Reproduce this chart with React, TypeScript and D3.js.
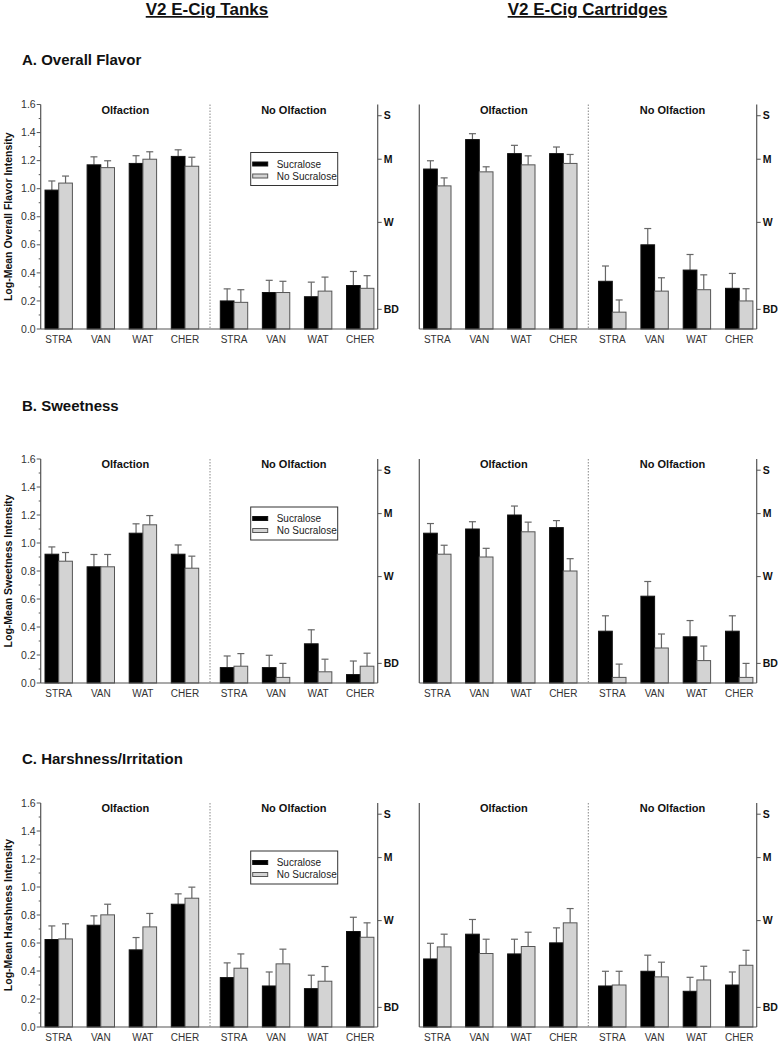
import React from "react";
import * as d3 from "d3";

// ---------- data ----------
const flavors = ["STRA", "VAN", "WAT", "CHER"];
const conditions = ["Olfaction", "No Olfaction"];
const devices = ["V2 E-Cig Tanks", "V2 E-Cig Cartridges"];
const seriesNames = ["Sucralose", "No Sucralose"];
const measureTitles = ["A. Overall Flavor", "B. Sweetness", "C. Harshness/Irritation"];
const yAxisTitles = [
  "Log-Mean Overall Flavor Intensity",
  "Log-Mean Sweetness Intensity",
  "Log-Mean Harshness Intensity",
];
const yTicks = [0, 0.2, 0.4, 0.6, 0.8, 1.0, 1.2, 1.4, 1.6];
const yMinorTicks = [0.1, 0.3, 0.5, 0.7, 0.9, 1.1, 1.3, 1.5];
const scaleLabels = ["S", "M", "W", "BD"];
const scaleValues = [1.52, 1.21, 0.76, 0.14];

// values: 4 Olfaction flavors, then 4 No Olfaction flavors
const tankFlavorSuc = [0.99, 1.17, 1.18, 1.23, 0.2, 0.26, 0.23, 0.31];
const tankFlavorSucErr = [0.065, 0.057, 0.055, 0.047, 0.086, 0.087, 0.104, 0.1];
const tankFlavorNoSuc = [1.04, 1.15, 1.21, 1.16, 0.19, 0.26, 0.27, 0.29];
const tankFlavorNoSucErr = [0.05, 0.049, 0.053, 0.064, 0.09, 0.08, 0.1, 0.09];

const cartFlavorSuc = [1.14, 1.35, 1.25, 1.25, 0.34, 0.6, 0.42, 0.29];
const cartFlavorSucErr = [0.059, 0.042, 0.059, 0.047, 0.109, 0.116, 0.111, 0.106];
const cartFlavorNoSuc = [1.02, 1.12, 1.17, 1.18, 0.12, 0.27, 0.28, 0.2];
const cartFlavorNoSucErr = [0.057, 0.036, 0.064, 0.064, 0.087, 0.095, 0.106, 0.087];

const tankSweetSuc = [0.92, 0.83, 1.07, 0.92, 0.11, 0.11, 0.28, 0.06];
const tankSweetSucErr = [0.052, 0.088, 0.067, 0.066, 0.083, 0.088, 0.1, 0.097];
const tankSweetNoSuc = [0.87, 0.83, 1.13, 0.82, 0.12, 0.04, 0.08, 0.12];
const tankSweetNoSucErr = [0.062, 0.088, 0.066, 0.086, 0.09, 0.1, 0.09, 0.093];

const cartSweetSuc = [1.07, 1.1, 1.2, 1.11, 0.37, 0.62, 0.33, 0.37];
const cartSweetSucErr = [0.069, 0.052, 0.064, 0.05, 0.11, 0.105, 0.116, 0.11];
const cartSweetNoSuc = [0.92, 0.9, 1.08, 0.8, 0.04, 0.25, 0.16, 0.04];
const cartSweetNoSucErr = [0.064, 0.062, 0.069, 0.088, 0.095, 0.1, 0.104, 0.1];

const tankHarshSuc = [0.625, 0.727, 0.551, 0.877, 0.353, 0.293, 0.274, 0.682];
const tankHarshSucErr = [0.097, 0.067, 0.088, 0.074, 0.105, 0.1, 0.096, 0.102];
const tankHarshNoSuc = [0.629, 0.801, 0.715, 0.92, 0.42, 0.451, 0.327, 0.641];
const tankHarshNoSucErr = [0.108, 0.076, 0.096, 0.079, 0.102, 0.105, 0.105, 0.103];

const cartHarshSuc = [0.486, 0.663, 0.522, 0.601, 0.293, 0.398, 0.255, 0.3];
const cartHarshSucErr = [0.112, 0.105, 0.105, 0.107, 0.105, 0.115, 0.1, 0.093];
const cartHarshNoSuc = [0.572, 0.525, 0.575, 0.744, 0.3, 0.358, 0.336, 0.441];
const cartHarshNoSucErr = [0.091, 0.102, 0.102, 0.102, 0.098, 0.105, 0.098, 0.107];

const panelData = [
  [
    [tankFlavorSuc, tankFlavorSucErr, tankFlavorNoSuc, tankFlavorNoSucErr],
    [cartFlavorSuc, cartFlavorSucErr, cartFlavorNoSuc, cartFlavorNoSucErr],
  ],
  [
    [tankSweetSuc, tankSweetSucErr, tankSweetNoSuc, tankSweetNoSucErr],
    [cartSweetSuc, cartSweetSucErr, cartSweetNoSuc, cartSweetNoSucErr],
  ],
  [
    [tankHarshSuc, tankHarshSucErr, tankHarshNoSuc, tankHarshNoSucErr],
    [cartHarshSuc, cartHarshSucErr, cartHarshNoSuc, cartHarshNoSucErr],
  ],
];

// ---------- layout ----------
const W = 778;
const H = 1044;
const FONT = "'Liberation Sans', Arial, Helvetica, sans-serif";
const colLayout = [
  { left: 40.7, mid: 210, right: 377.7 },
  { left: 419.3, mid: 588.3, right: 756.7 },
];
const rowLayout = [
  { top: 104.5, zero: 329, titleY: 65 },
  { top: 459, zero: 683, titleY: 411 },
  { top: 803, zero: 1027, titleY: 764 },
];
const barW = 13.7;
const AXIS = "#555";
const BLACK = "#000";
const GRAY = "#d3d3d3";
const ERR = "#666";

function Panel({ row, col }: { row: number; col: number }) {
  const { left, mid, right } = colLayout[col];
  const { top, zero } = rowLayout[row];
  const y = d3.scaleLinear().domain([0, 1.6]).range([zero, top]);
  const halves = [
    d3.scalePoint<string>().domain(flavors).range([left + 18, mid - 25]),
    d3.scalePoint<string>().domain(flavors).range([mid + 24, right - 17.5]),
  ];
  const [suc, sucErr, noSuc, noSucErr] = panelData[row][col];
  const bars: React.ReactNode[] = [];
  conditions.forEach((cond, ci) => {
    flavors.forEach((f, fi) => {
      const i = ci * 4 + fi;
      const cx = halves[ci](f) as number;
      const series = [
        { v: suc[i], e: sucErr[i], x: cx - barW, fill: BLACK, stroke: "#111" },
        { v: noSuc[i], e: noSucErr[i], x: cx, fill: GRAY, stroke: "#555" },
      ];
      series.forEach((s, si) => {
        const bx = s.x + barW / 2;
        bars.push(
          <g key={`${i}-${si}`}>
            <line x1={bx} x2={bx} y1={y(s.v)} y2={y(s.v + s.e)} stroke={ERR} strokeWidth={1.2} />
            <line x1={bx - 3.5} x2={bx + 3.5} y1={y(s.v + s.e)} y2={y(s.v + s.e)} stroke={ERR} strokeWidth={1.2} />
            <rect x={s.x} y={y(s.v)} width={barW} height={zero - y(s.v)} fill={s.fill} stroke={s.stroke} strokeWidth={1} />
          </g>
        );
      });
    });
  });

  return (
    <g>
      {bars}
      {/* axes */}
      <line x1={left} x2={left} y1={top} y2={zero} stroke={AXIS} strokeWidth={1.2} />
      <line x1={left} x2={right} y1={zero} y2={zero} stroke={AXIS} strokeWidth={1.2} />
      <line x1={right} x2={right} y1={top} y2={zero} stroke={AXIS} strokeWidth={1.2} />
      <line x1={mid} x2={mid} y1={top} y2={zero} stroke="#888" strokeWidth={1} strokeDasharray="1.5,1.5" />
      {col === 0 &&
        yTicks.map((t) => (
          <g key={`t${t}`}>
            <line x1={left - 4} x2={left} y1={y(t)} y2={y(t)} stroke={AXIS} strokeWidth={1} />
            <text x={left - 5} y={y(t)} dy="0.35em" textAnchor="end" fontSize={10.5} fill="#333" fontFamily={FONT}>
              {d3.format(".1f")(t)}
            </text>
          </g>
        ))}
      {col === 0 &&
        yMinorTicks.map((t) => (
          <line key={`m${t}`} x1={left - 2} x2={left} y1={y(t)} y2={y(t)} stroke={AXIS} strokeWidth={1} />
        ))}
      {scaleLabels.map((lab, k) => (
        <g key={lab}>
          <line x1={right} x2={right + 4} y1={y(scaleValues[k])} y2={y(scaleValues[k])} stroke={AXIS} strokeWidth={1} />
          <text x={right + 6} y={y(scaleValues[k])} dy="0.35em" fontSize={10.5} fontWeight="bold" fill="#111" fontFamily={FONT}>
            {lab}
          </text>
        </g>
      ))}
      {/* x labels */}
      {conditions.map((c, ci) =>
        flavors.map((f) => (
          <text key={`${c}${f}`} x={halves[ci](f) as number} y={zero + 14} textAnchor="middle" fontSize={10} fill="#333" fontFamily={FONT}>
            {f}
          </text>
        ))
      )}
      {/* condition labels */}
      <text x={(left + mid) / 2} y={top + 9} textAnchor="middle" fontSize={11} fontWeight="bold" fill="#111" fontFamily={FONT}>
        {conditions[0]}
      </text>
      <text x={(mid + right) / 2} y={top + 9} textAnchor="middle" fontSize={11} fontWeight="bold" fill="#111" fontFamily={FONT}>
        {conditions[1]}
      </text>
      {col === 0 && (
        <text
          transform={`translate(${8},${(top + zero) / 2}) rotate(-90)`}
          textAnchor="middle"
          dy="0.35em"
          fontSize={10.5}
          fontWeight="bold"
          fill="#111"
          fontFamily={FONT}
        >
          {yAxisTitles[row]}
        </text>
      )}
      {col === 0 && (
        <g transform={`translate(${left + 210},${top + 48})`}>
          <rect x={0} y={0} width={87} height={33} fill="#fff" stroke="#333" strokeWidth={1} />
          <rect x={2} y={9.5} width={15} height={4} fill={BLACK} stroke="#111" />
          <rect x={2} y={21.5} width={15} height={4} fill={GRAY} stroke="#555" />
          <text x={26} y={11.5} dy="0.35em" fontSize={10} fill="#222" fontFamily={FONT}>
            {seriesNames[0]}
          </text>
          <text x={26} y={23.5} dy="0.35em" fontSize={10} fill="#222" fontFamily={FONT}>
            {seriesNames[1]}
          </text>
        </g>
      )}
    </g>
  );
}

export default function App() {
  return (
    <div style={{ position: "absolute", left: 0, top: 0, width: W, height: H, background: "#fff" }}>
      <svg width={W} height={H} style={{ display: "block" }}>
        <rect width={W} height={H} fill="#fff" />
        <text x={207} y={15} textAnchor="middle" fontSize={17} fontWeight="bold" fill="#111" fontFamily={FONT} textDecoration="underline">
          {devices[0]}
        </text>
        <text x={587.5} y={15} textAnchor="middle" fontSize={17} fontWeight="bold" fill="#111" fontFamily={FONT} textDecoration="underline">
          {devices[1]}
        </text>
        {measureTitles.map((t, r) => (
          <text key={t} x={22} y={rowLayout[r].titleY} fontSize={15} fontWeight="bold" fill="#111" fontFamily={FONT}>
            {t}
          </text>
        ))}
        {[0, 1, 2].map((r) => [0, 1].map((c) => <Panel key={`${r}-${c}`} row={r} col={c} />))}
      </svg>
    </div>
  );
}
